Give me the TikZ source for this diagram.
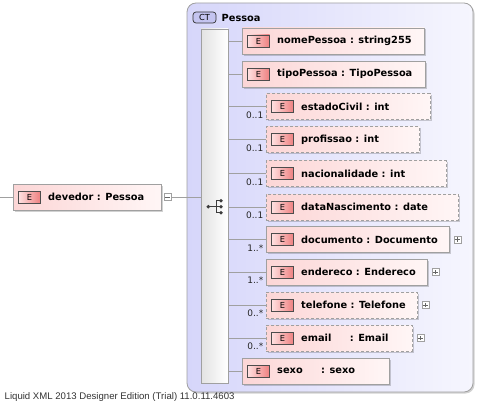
\documentclass[tikz,border=0pt]{standalone}
\usepackage{fontspec}
\setmainfont{DejaVu Sans}
\newfontfamily\footfont{Liberation Sans}
\usetikzlibrary{shadows}
\definecolor{ctleft}{RGB}{214,214,250}
\definecolor{ctright}{RGB}{246,246,254}
\definecolor{elleft}{RGB}{252,214,214}
\definecolor{elright}{RGB}{255,246,246}
\definecolor{bdleft}{RGB}{255,225,225}
\definecolor{bdright}{RGB}{238,128,128}
\definecolor{edge}{RGB}{160,160,160}
\definecolor{iconc}{RGB}{60,60,60}
\tikzset{
  shad/.style={drop shadow={shadow xshift=1.5pt,shadow yshift=-1.5pt,fill=black,opacity=0.18}},
  elbox/.style={draw=edge,line width=0.8pt,left color=elleft,right color=elright,minimum height=26pt,inner sep=0pt,anchor=west,shad},
  optbox/.style={dash pattern=on 3pt off 2pt},
  ebadge/.style={draw=gray!60!black,line width=0.7pt,left color=bdleft,right color=bdright,minimum width=22pt,minimum height=12pt,inner sep=0pt,font=\fontsize{8.3}{9}\selectfont},
  eltext/.style={font=\fontsize{9.8}{11}\selectfont\bfseries,inner sep=0pt,anchor=west},
  mult/.style={font=\fontsize{9}{10}\selectfont,inner sep=0pt,text=black!85},
  pbox/.style={draw=edge,line width=0.6pt,fill=white,minimum width=7pt,minimum height=7pt,inner sep=0pt},
  pline/.style={draw=gray!80!black,line width=0.6pt},
  conn/.style={draw=edge,line width=0.7pt},
  ctbox/.style={draw=edge,line width=0.8pt,rounded corners=9pt,left color=ctleft,right color=ctright,minimum width=286pt,minimum height=389pt,inner sep=0pt,shad},
  barbox/.style={draw=edge,line width=0.8pt,left color=gray!22,right color=white,minimum width=27pt,minimum height=354pt,inner sep=0pt},
  ctbadge/.style={draw=gray!40!black,line width=0.7pt,rounded corners=3pt,fill={rgb,255:red,196;green,196;blue,240},minimum width=23pt,minimum height=11pt,inner sep=0pt,font=\fontsize{8.3}{9}\selectfont},
  foot/.style={font=\footfont\fontsize{9.6}{11}\selectfont,text=black!80,inner sep=0pt,anchor=west}
}
\newcommand\xel[6]{%
  \node[elbox,#2,minimum width=#5pt] (#1) at (#3,#4) {};
  \node[ebadge] (#1e) at ([xshift=16.5pt]#1.west) {E};
  \node[eltext] (#1t) at ([xshift=35pt]#1.west) {#6};
}
\newcommand\xmult[2]{%
  \node[mult,anchor=base east] (#1m) at ([xshift=-2.5pt,yshift=-11.8pt]#1.west) {#2};
}
\newcommand\xplus[1]{%
  \node[pbox] (#1p) at ([xshift=7.5pt]#1.east) {};
  \draw[pline] ([xshift=-2.2pt]#1p.center) -- ([xshift=2.2pt]#1p.center);
  \draw[pline] ([yshift=-2.2pt]#1p.center) -- ([yshift=2.2pt]#1p.center);
}
\newcommand\xconn[1]{\draw[conn] (bar.east |- #1.west) -- (#1.west);}
\begin{document}
\begin{tikzpicture}[x=1pt,y=-1pt]
\useasboundingbox (0,0) rectangle (486,404);
% container
\node[ctbox] (ct) at (330,197.5) {};
\node[ctbadge] (ctb) at (204.5,17.5) {CT};
\node[eltext] (cttitle) at (221.5,17.5) {Pessoa};
\node[barbox] (bar) at (214.5,206) {};
% sequence icon
\coordinate (seq) at (208.3,206.7);
\draw[iconc,line width=0.8pt] (seq) -- ++(7.7,0) coordinate (seqv);
\draw[iconc,line width=0.8pt] ([yshift=6pt]seqv) -- ([yshift=-6pt]seqv);
\draw[iconc,line width=0.8pt] ([yshift=6pt]seqv) -- ++(5,0) coordinate (s1);
\draw[iconc,line width=0.8pt] (seqv) -- ++(5,0) coordinate (s2);
\draw[iconc,line width=0.8pt] ([yshift=-6pt]seqv) -- ++(5,0) coordinate (s3);
\fill[iconc] (seq) circle (1.9pt) (s1) circle (1.9pt) (s2) circle (1.9pt) (s3) circle (1.9pt);
% devedor
\coordinate (lstart) at (0,197);
\xel{dev}{}{13}{197}{148}{devedor : Pessoa}
\node[pbox] (devm) at ([xshift=5.5pt]dev.east) {};
\draw[pline] ([xshift=-2.2pt]devm.center) -- ([xshift=2.2pt]devm.center);
\draw[conn] (lstart) -- (dev.west);
\draw[conn] (devm.east) -- (bar.west |- devm.east);
% children
\xel{c1}{}{242}{41}{182}{nomePessoa : string255}
\xel{c2}{}{242}{74}{183}{tipoPessoa : TipoPessoa}
\xel{c3}{optbox}{266}{106.5}{164}{estadoCivil : int}
\xel{c4}{optbox}{266}{139.5}{153}{profissao : int}
\xel{c5}{optbox}{266}{173.5}{180}{nacionalidade : int}
\xel{c6}{optbox}{266}{207}{192}{dataNascimento : date}
\xel{c7}{}{266}{239.5}{183}{documento : Documento}
\xel{c8}{}{266}{272}{161}{endereco : Endereco}
\xel{c9}{optbox}{266}{305}{151}{telefone : Telefone}
\xel{c10}{optbox}{266}{338}{146}{email\hspace{15pt} : Email}
\xel{c11}{}{242}{371}{147}{sexo\hspace{15pt} : sexo}
\foreach \c in {c1,c2,c3,c4,c5,c6,c7,c8,c9,c10,c11}{\xconn{\c}}
\xmult{c3}{0..1}
\xmult{c4}{0..1}
\xmult{c5}{0..1}
\xmult{c6}{0..1}
\xmult{c7}{1..*}
\xmult{c8}{1..*}
\xmult{c9}{0..*}
\xmult{c10}{0..*}
\xplus{c7}
\xplus{c8}
\xplus{c9}
\xplus{c10}
\node[foot] (footer) at (4.5,397.5) {Liquid XML 2013 Designer Edition (Trial) 11.0.11.4603};
\end{tikzpicture}
\end{document}
